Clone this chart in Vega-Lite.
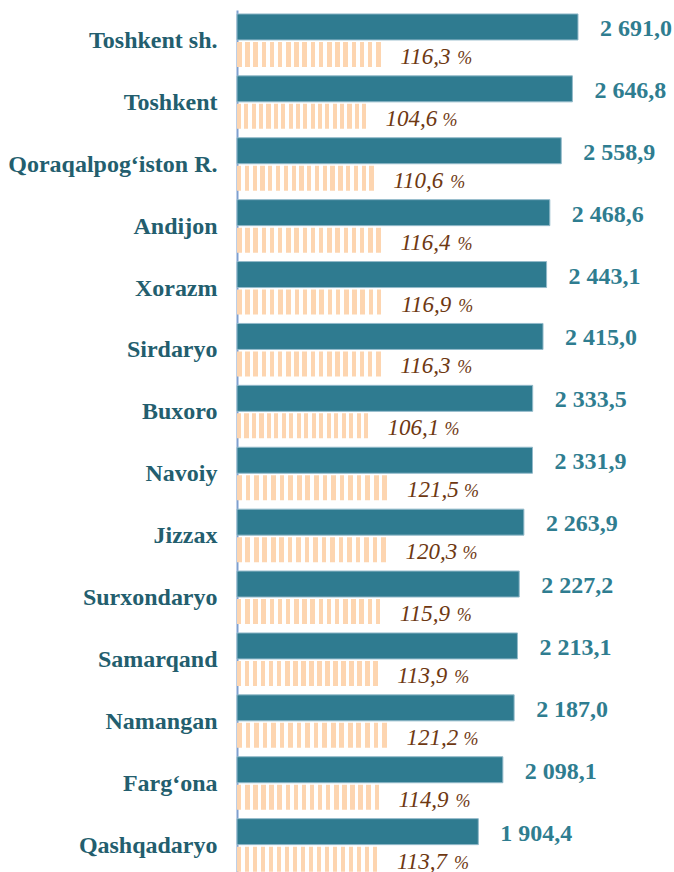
{
  "$schema": "https://vega.github.io/schema/vega-lite/v6.json",
  "width": 437,
  "height": 866.6,
  "autosize": {"type": "none"},
  "padding": {"left": 237, "top": 10, "right": 0, "bottom": 0},
  "background": "white",
  "config": {
    "view": {"stroke": null},
    "locale": {"number": {"decimal": ",", "thousands": " ", "grouping": [3], "currency": ["", ""]}}
  },
  "data": {
    "values": [
      {"region": "Toshkent sh.", "value": 2691.0, "pct": 116.3},
      {"region": "Toshkent", "value": 2646.8, "pct": 104.6},
      {"region": "Qoraqalpog‘iston R.", "value": 2558.9, "pct": 110.6},
      {"region": "Andijon", "value": 2468.6, "pct": 116.4},
      {"region": "Xorazm", "value": 2443.1, "pct": 116.9},
      {"region": "Sirdaryo", "value": 2415.0, "pct": 116.3},
      {"region": "Buxoro", "value": 2333.5, "pct": 106.1},
      {"region": "Navoiy", "value": 2331.9, "pct": 121.5},
      {"region": "Jizzax", "value": 2263.9, "pct": 120.3},
      {"region": "Surxondaryo", "value": 2227.2, "pct": 115.9},
      {"region": "Samarqand", "value": 2213.1, "pct": 113.9},
      {"region": "Namangan", "value": 2187.0, "pct": 121.2},
      {"region": "Farg‘ona", "value": 2098.1, "pct": 114.9},
      {"region": "Qashqadaryo", "value": 1904.4, "pct": 113.7}
    ]
  },
  "encoding": {
    "y": {
      "field": "region",
      "type": "nominal",
      "sort": null,
      "scale": {"type": "band", "paddingInner": 0, "paddingOuter": 0},
      "axis": {
        "title": null,
        "ticks": false,
        "labelPadding": 20,
        "labelFont": "Liberation Serif",
        "labelFontSize": 24,
        "labelFontWeight": "bold",
        "labelColor": "#235E6E",
        "labelBaseline": "middle",
        "labelLimit": 300,
        "domainColor": "#7F9FCF",
        "domainWidth": 2,
        "grid": false
      }
    }
  },
  "layer": [
    {
      "mark": {"type": "bar", "height": 26, "yOffset": -14, "fill": "#2F7B90", "stroke": "#93BACA", "strokeWidth": 1},
      "encoding": {
        "x": {"field": "value", "type": "quantitative", "scale": {"domain": [0, 3448.6]}, "axis": null}
      }
    },
    {
      "mark": {
        "type": "bar",
        "height": 25,
        "yOffset": 13.5,
        "fill": {
          "gradient": "linear",
          "x1": 0, "y1": 0, "x2": 1, "y2": 0,
          "stops": [
            {"offset": 0, "color": "#FDD5B0"}, {"offset": 0.0306, "color": "#FDD5B0"}, {"offset": 0.0306, "color": "#FFFFFF"}, {"offset": 0.0556, "color": "#FFFFFF"},
            {"offset": 0.0556, "color": "#FDD5B0"}, {"offset": 0.0861, "color": "#FDD5B0"}, {"offset": 0.0861, "color": "#FFFFFF"}, {"offset": 0.1111, "color": "#FFFFFF"},
            {"offset": 0.1111, "color": "#FDD5B0"}, {"offset": 0.1417, "color": "#FDD5B0"}, {"offset": 0.1417, "color": "#FFFFFF"}, {"offset": 0.1667, "color": "#FFFFFF"},
            {"offset": 0.1667, "color": "#FDD5B0"}, {"offset": 0.1972, "color": "#FDD5B0"}, {"offset": 0.1972, "color": "#FFFFFF"}, {"offset": 0.2222, "color": "#FFFFFF"},
            {"offset": 0.2222, "color": "#FDD5B0"}, {"offset": 0.2528, "color": "#FDD5B0"}, {"offset": 0.2528, "color": "#FFFFFF"}, {"offset": 0.2778, "color": "#FFFFFF"},
            {"offset": 0.2778, "color": "#FDD5B0"}, {"offset": 0.3083, "color": "#FDD5B0"}, {"offset": 0.3083, "color": "#FFFFFF"}, {"offset": 0.3333, "color": "#FFFFFF"},
            {"offset": 0.3333, "color": "#FDD5B0"}, {"offset": 0.3639, "color": "#FDD5B0"}, {"offset": 0.3639, "color": "#FFFFFF"}, {"offset": 0.3889, "color": "#FFFFFF"},
            {"offset": 0.3889, "color": "#FDD5B0"}, {"offset": 0.4194, "color": "#FDD5B0"}, {"offset": 0.4194, "color": "#FFFFFF"}, {"offset": 0.4444, "color": "#FFFFFF"},
            {"offset": 0.4444, "color": "#FDD5B0"}, {"offset": 0.475, "color": "#FDD5B0"}, {"offset": 0.475, "color": "#FFFFFF"}, {"offset": 0.5, "color": "#FFFFFF"},
            {"offset": 0.5, "color": "#FDD5B0"}, {"offset": 0.5306, "color": "#FDD5B0"}, {"offset": 0.5306, "color": "#FFFFFF"}, {"offset": 0.5556, "color": "#FFFFFF"},
            {"offset": 0.5556, "color": "#FDD5B0"}, {"offset": 0.5861, "color": "#FDD5B0"}, {"offset": 0.5861, "color": "#FFFFFF"}, {"offset": 0.6111, "color": "#FFFFFF"},
            {"offset": 0.6111, "color": "#FDD5B0"}, {"offset": 0.6417, "color": "#FDD5B0"}, {"offset": 0.6417, "color": "#FFFFFF"}, {"offset": 0.6667, "color": "#FFFFFF"},
            {"offset": 0.6667, "color": "#FDD5B0"}, {"offset": 0.6972, "color": "#FDD5B0"}, {"offset": 0.6972, "color": "#FFFFFF"}, {"offset": 0.7222, "color": "#FFFFFF"},
            {"offset": 0.7222, "color": "#FDD5B0"}, {"offset": 0.7528, "color": "#FDD5B0"}, {"offset": 0.7528, "color": "#FFFFFF"}, {"offset": 0.7778, "color": "#FFFFFF"},
            {"offset": 0.7778, "color": "#FDD5B0"}, {"offset": 0.8083, "color": "#FDD5B0"}, {"offset": 0.8083, "color": "#FFFFFF"}, {"offset": 0.8333, "color": "#FFFFFF"},
            {"offset": 0.8333, "color": "#FDD5B0"}, {"offset": 0.8639, "color": "#FDD5B0"}, {"offset": 0.8639, "color": "#FFFFFF"}, {"offset": 0.8889, "color": "#FFFFFF"},
            {"offset": 0.8889, "color": "#FDD5B0"}, {"offset": 0.9194, "color": "#FDD5B0"}, {"offset": 0.9194, "color": "#FFFFFF"}, {"offset": 0.9444, "color": "#FFFFFF"},
            {"offset": 0.9444, "color": "#FDD5B0"}, {"offset": 0.975, "color": "#FDD5B0"}, {"offset": 0.975, "color": "#FFFFFF"}, {"offset": 1, "color": "#FFFFFF"}
          ]
        }
      },
      "encoding": {
        "x": {"field": "pct", "type": "quantitative", "scale": {"domain": [0, 344.86]}, "axis": null}
      }
    },
    {
      "mark": {"type": "text", "align": "left", "baseline": "alphabetic", "dx": 22, "dy": -5, "font": "Liberation Serif", "fontSize": 24, "fontWeight": "bold", "color": "#2F7D90"},
      "encoding": {
        "x": {"field": "value", "type": "quantitative", "scale": {"domain": [0, 3448.6]}, "axis": null},
        "text": {"field": "value", "type": "quantitative", "format": ",.1f"}
      }
    },
    {
      "mark": {"type": "text", "align": "left", "baseline": "alphabetic", "dx": 16, "dy": 23, "font": "Liberation Serif", "fontSize": 23, "fontStyle": "italic", "color": "#6E3812"},
      "encoding": {
        "x": {"field": "pct", "type": "quantitative", "scale": {"domain": [0, 344.86]}, "axis": null},
        "text": {"field": "pct", "type": "quantitative", "format": ".1f"}
      }
    },
    {
      "mark": {"type": "text", "align": "left", "baseline": "alphabetic", "dx": 73, "dy": 23, "font": "Liberation Serif", "fontSize": 18, "fontStyle": "italic", "color": "#6E3812"},
      "encoding": {
        "x": {"field": "pct", "type": "quantitative", "scale": {"domain": [0, 344.86]}, "axis": null},
        "text": {"value": "%"}
      }
    }
  ],
  "resolve": {"scale": {"x": "independent"}}
}
